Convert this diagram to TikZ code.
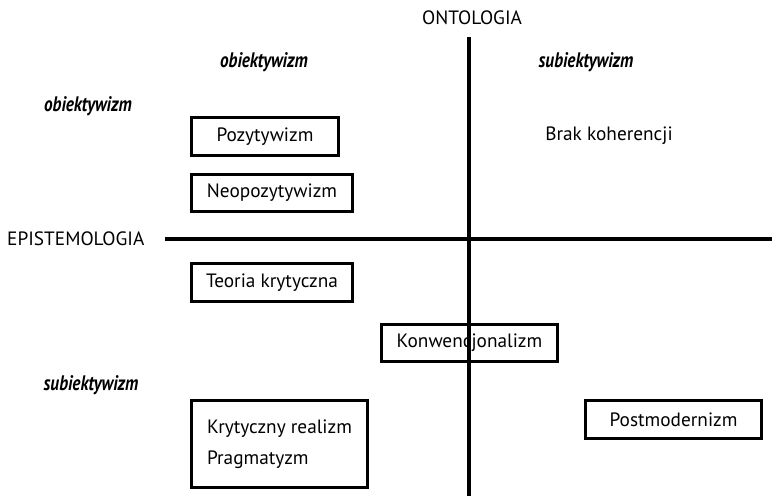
\documentclass[tikz,border=0pt]{standalone}
\usepackage{fontspec}
\setmainfont{PT Sans}
\newfontfamily\labfont[FakeStretch=0.82]{PT Sans}
\begin{document}
\begin{tikzpicture}[x=1pt,y=-1pt,
  box/.style={draw, line width=3.6pt, inner sep=0pt, font=\fontsize{19.3}{23}\selectfont},
  txt/.style={inner sep=0pt, font=\fontsize{19.3}{23}\selectfont},
  lab/.style={inner sep=0pt, font=\labfont\bfseries\itshape\fontsize{21}{24}\selectfont},
  axis/.style={line width=3.2pt}]
\useasboundingbox (0,0) rectangle (772,496);
\fill[white] (0,0) rectangle (772,496);
% axes
\coordinate (vtop) at (469,37);
\coordinate (vbot) at (469,496);
\coordinate (hleft) at (165,239);
\coordinate (hright) at (772,239);
\draw[axis] (vtop) -- (vbot);
\draw[axis] (hleft) -- (hright);
\node[txt] (ont) at (472,18) {ONTOLOGIA};
\node[txt, anchor=west] (epi) at (7,239) {EPISTEMOLOGIA};
% labels
\node[lab] (obtop) at (264,62) {obiektywizm};
\node[lab] (subtop) at (586,62) {subiektywizm};
\node[lab] (obleft) at (88,106) {obiektywizm};
\node[lab] (subleft) at (91,385) {subiektywizm};
% boxes
\node[box, minimum width=147, minimum height=38] (poz) at (265,136.5) {Pozytywizm};
\node[box, minimum width=161, minimum height=37] (neo) at (272,193) {Neopozytywizm};
\node[box, minimum width=161, minimum height=38] (teo) at (272,282.5) {Teoria krytyczna};
\node[box, minimum width=176, minimum height=37] (konw) at (469.5,343) {Konwencjonalizm};
\node[box, minimum width=176, minimum height=87, align=left] (kryt) at (279.5,444) {Krytyczny realizm\\[8pt]Pragmatyzm};
\node[box, minimum width=176, minimum height=38] (post) at (673.5,419.5) {Postmodernizm};
\node[txt] (brak) at (609,136) {Brak koherencji};
\end{tikzpicture}
\end{document}
